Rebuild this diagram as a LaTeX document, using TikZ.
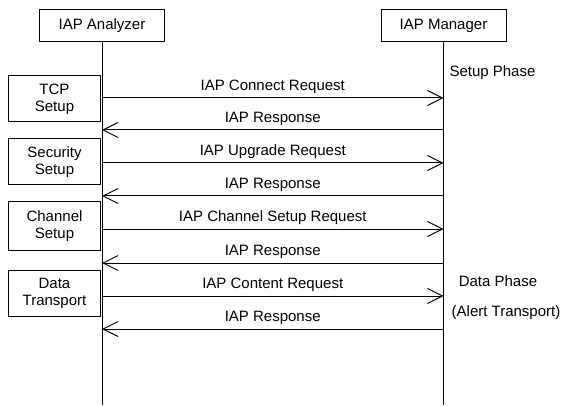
\documentclass[tikz,border=0pt]{standalone}
\usepackage{fontspec}
\setmainfont{Liberation Sans}
\usetikzlibrary{arrows.meta,positioning}

\begin{document}
\begin{tikzpicture}[
    x=1pt, y=-1pt,
    font=\fontsize{15}{17}\selectfont,
    actor/.style={draw, line width=1pt, minimum width=125pt, minimum height=32pt, inner sep=2pt},
    phase/.style={draw, line width=1pt, minimum width=92pt, minimum height=46pt, align=center, inner sep=1pt},
    life/.style={line width=1pt},
    msg/.style={line width=1pt, -{Straight Barb[length=15pt, width=15pt]}},
    lbl/.style={midway, above=1pt}
  ]
    \useasboundingbox (0,0) rectangle (562,406);

    % the two parties and their lifelines
    \node[actor] (analyzer) at (102,26) {IAP Analyzer};
    \node[actor] (manager) at (443.5,26) {IAP Manager};
    \coordinate (anaEnd) at (analyzer |- 0,405);
    \coordinate (manEnd) at (manager |- 0,405);
    \draw[life] (analyzer) -- (anaEnd);
    \draw[life] (manager) -- (manEnd);

    % phases on the analyzer side
    \node[phase, anchor=east] (tcp) at (101,99) {TCP\\Setup};
    \node[phase, anchor=east] (security) at (101,162) {Security\\Setup};
    \node[phase, anchor=east, minimum height=49pt] (channel) at (101,226) {Channel\\Setup};
    \node[phase, anchor=east] (transport) at (101,293.5) {Data\\Transport};

    % phase notes on the manager side
    \node[anchor=west] (setupPhase) at (446,73) {Setup Phase};
    \node (dataPhase) at (498,281) {Data Phase};
    \node (alertPhase) at (506,313) {(Alert Transport)};

    % message end points
    \foreach \i/\y in {1/98,2/130,3/163,4/196,5/229,6/263,7/296,8/329} {
      \coordinate (a\i) at (analyzer |- 0,\y);
      \coordinate (m\i) at (manager |- 0,\y);
    }

    \draw[msg] (a1) -- (m1) node[lbl] {IAP Connect Request};
    \draw[msg] (m2) -- (a2) node[lbl] {IAP Response};
    \draw[msg] (a3) -- (m3) node[lbl] {IAP Upgrade Request};
    \draw[msg] (m4) -- (a4) node[lbl] {IAP Response};
    \draw[msg] (a5) -- (m5) node[lbl] {IAP Channel Setup Request};
    \draw[msg] (m6) -- (a6) node[lbl] {IAP Response};
    \draw[msg] (a7) -- (m7) node[lbl] {IAP Content Request};
    \draw[msg] (m8) -- (a8) node[lbl] {IAP Response};
  \end{tikzpicture}
\end{document}
